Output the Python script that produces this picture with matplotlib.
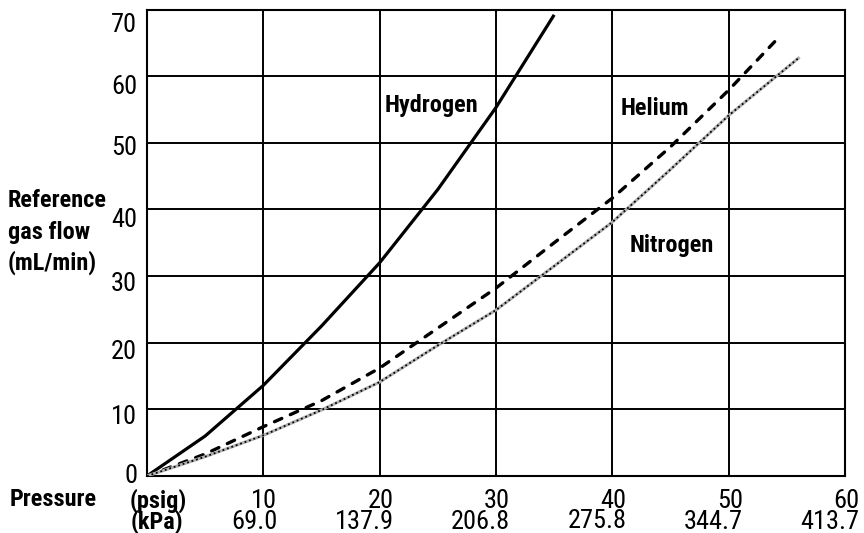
import matplotlib
matplotlib.use('Agg')
import matplotlib.pyplot as plt
from matplotlib import font_manager

# flow curves (pressure in psig, flow in mL/min)
hydrogen_psig = [0, 5, 10, 15, 20, 25, 30, 35]
hydrogen_flow = [0, 6.0, 13.6, 22.5, 32.0, 43.0, 55.3, 69.2]

helium_psig = [0, 5, 10, 15, 20, 25, 30, 35, 40, 45, 50, 54.3]
helium_flow = [0, 3.3, 7.4, 11.3, 16.2, 22.2, 28.2, 35.0, 41.7, 49.4, 57.9, 65.8]

nitrogen_psig = [0, 5, 10, 15, 20, 25, 30, 35, 40, 45, 50, 56]
nitrogen_flow = [0, 2.9, 6.1, 9.9, 14.1, 19.6, 24.9, 31.5, 38.1, 46.0, 54.1, 62.7]

psig_ticks = [10, 20, 30, 40, 50, 60]
kpa_labels = ['69.0', '137.9', '206.8', '275.8', '344.7', '413.7']
flow_ticks = [0, 10, 20, 30, 40, 50, 60, 70]

# look for a narrow face, the original uses a condensed font
names = set(f.name for f in font_manager.fontManager.ttflist)
narrow = [n for n in ['Liberation Sans Narrow', 'Roboto Condensed', 'Open Sans Condensed'] if n in names]
cond_dejavu = any(f.name == 'DejaVu Sans' and f.stretch == 'condensed' for f in font_manager.fontManager.ttflist)
if narrow:
	plt.rcParams['font.family'] = [narrow[0], 'DejaVu Sans']
	scale = 1.0
elif cond_dejavu:
	plt.rcParams['font.family'] = ['DejaVu Sans']
	plt.rcParams['font.stretch'] = 'condensed'
	scale = 0.92
else:
	plt.rcParams['font.family'] = ['DejaVu Sans']
	scale = 0.78


def main():
	fig = plt.figure(figsize=(8.64, 5.33), dpi=100)
	ax = fig.add_axes([147 / 864, 57 / 533, 698 / 864, 466.5 / 533])

	big = 19 * scale
	bold = 17.5 * scale

	ax.set_xlim(0, 60)
	ax.set_ylim(0, 70)
	ax.set_xticks([0] + psig_ticks)
	ax.set_yticks(flow_ticks)
	ax.set_xticklabels([])
	ax.set_yticklabels([])
	ax.tick_params(length=0)
	ax.grid(True, color='black', linewidth=1.4)
	for s in ax.spines.values():
		s.set_linewidth(1.5)

	# curves
	ax.plot(hydrogen_psig, hydrogen_flow, color='black', linewidth=2.3, solid_capstyle='butt', zorder=3)
	ax.plot(helium_psig, helium_flow, color='black', linewidth=2.4, linestyle=(0, (2.4, 2.8)),
			dash_capstyle='round', zorder=3)
	ax.plot(nitrogen_psig, nitrogen_flow, color='#b0b0b0', linewidth=2.2, zorder=3)
	ax.plot(nitrogen_psig, nitrogen_flow, color='black', linewidth=1.3, linestyle=(0, (1, 1.6)), zorder=4)

	# curve names
	lbl = dict(fontsize=bold, fontweight='black', ha='left', va='baseline', zorder=5)
	ax.text(20.4, 54.6, 'Hydrogen', **lbl)
	ax.text(40.7, 54.1, 'Helium', **lbl)
	ax.text(41.5, 33.6, 'Nitrogen', **lbl)

	# y tick labels
	y_off = [0, 8, 9, 8, 11, 5, 11, 15]
	for v, off in zip(flow_ticks, y_off):
		ax.annotate(str(v), xy=(0, v), xycoords=('axes fraction', 'data'),
					xytext=(-10, -off), textcoords='offset pixels',
					ha='right', va='center', fontsize=big)

	# x tick labels (psig and kPa)
	for p, k in zip(psig_ticks, kpa_labels):
		ax.annotate(str(p), xy=(p, 0), xycoords=('data', 'axes fraction'),
					xytext=(14, -32), textcoords='offset pixels',
					ha='right', va='baseline', fontsize=big, annotation_clip=False)
		if k == '275.8':
			ax.annotate(k, xy=(p, 0), xycoords=('data', 'axes fraction'),
						xytext=(14, -57), textcoords='offset pixels',
						ha='right', va='bottom', fontsize=big, annotation_clip=False)
		else:
			ax.annotate(k, xy=(p, 0), xycoords=('data', 'axes fraction'),
						xytext=(14, -53), textcoords='offset pixels',
						ha='right', va='baseline', fontsize=big, annotation_clip=False)

	# axis titles
	t = dict(fontsize=bold, fontweight='black', ha='left', va='baseline')
	fig.text(8 / 864, 1 - 207 / 533, 'Reference', **t)
	fig.text(8 / 864, 1 - 239 / 533, 'gas flow', **t)
	fig.text(8 / 864, 1 - 270 / 533, '(mL/min)', **t)
	fig.text(10 / 864, 1 - 506 / 533, 'Pressure', **t)
	fig.text(130 / 864, 1 - 508 / 533, '(psig)', **t)
	fig.text(131 / 864, 1 - 529 / 533, '(kPa)', **t)

	fig.savefig('out.png', dpi=100)


if __name__ == '__main__':
	main()
